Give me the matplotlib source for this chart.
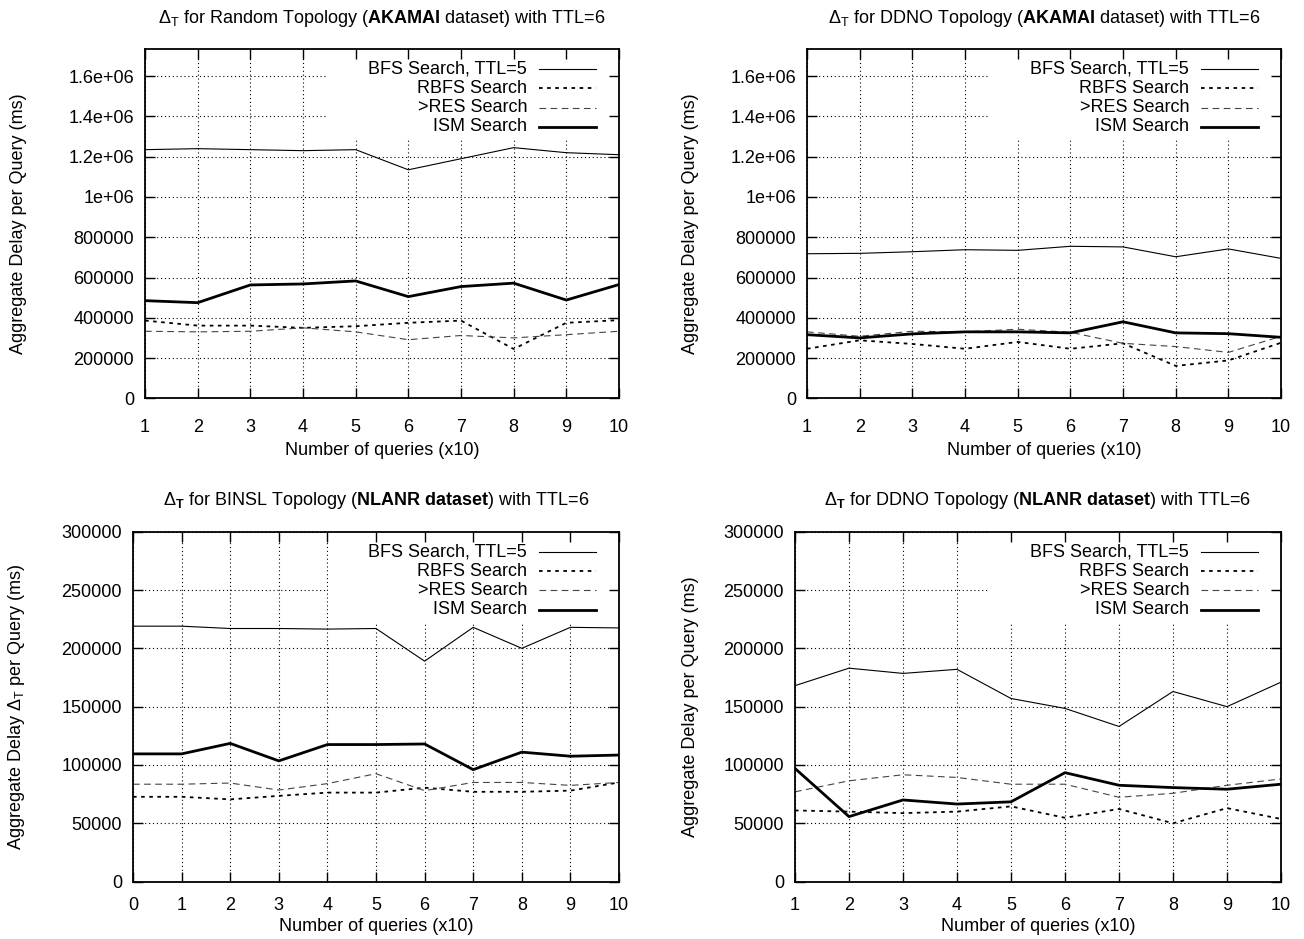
import numpy as np
import matplotlib
matplotlib.use('Agg')
import matplotlib.pyplot as plt
from matplotlib.patches import Rectangle

plt.rcParams['font.family'] = ['Liberation Sans', 'DejaVu Sans']
plt.rcParams['mathtext.fontset'] = 'custom'
plt.rcParams['mathtext.rm'] = 'Liberation Sans'
plt.rcParams['mathtext.it'] = 'Liberation Sans:italic'
plt.rcParams['mathtext.bf'] = 'Liberation Sans:bold'
plt.rcParams['font.size'] = 13

# ---- data ----
queries_1 = [1, 2, 3, 4, 5, 6, 7, 8, 9, 10]
queries_0 = [0, 1, 2, 3, 4, 5, 6, 7, 8, 9, 10]

# Random topology, AKAMAI
rnd_ak_bfs = [1235000, 1240000, 1235000, 1230000, 1235000, 1135000, 1190000, 1245000, 1220000, 1210000]
rnd_ak_rbfs = [386000, 361000, 361000, 350000, 358000, 375000, 386000, 245000, 375000, 388000]
rnd_ak_res = [333000, 330000, 333000, 350000, 330000, 291000, 312000, 300000, 316000, 333000]
rnd_ak_ism = [485000, 475000, 563000, 568000, 583000, 505000, 555000, 572000, 488000, 565000]

# DDNO topology, AKAMAI
ddno_ak_bfs = [718000, 720000, 728000, 738000, 735000, 755000, 752000, 703000, 742000, 695000]
ddno_ak_rbfs = [246000, 288000, 270000, 246000, 280000, 246000, 273000, 161000, 188000, 276000]
ddno_ak_res = [330000, 308000, 333000, 330000, 343000, 328000, 273000, 257000, 228000, 308000]
ddno_ak_ism = [316000, 300000, 320000, 330000, 330000, 325000, 380000, 325000, 321000, 303000]

# BINSL topology, NLANR
binsl_nl_bfs = [219000, 219000, 217000, 217000, 216500, 217000, 189000, 218000, 200000, 218000, 217500]
binsl_nl_rbfs = [72700, 72700, 70500, 73500, 76300, 76300, 80500, 77000, 77000, 78000, 85000]
binsl_nl_res = [83500, 83500, 84500, 78500, 84000, 92500, 78000, 85000, 85000, 82500, 85000]
binsl_nl_ism = [109500, 109500, 118500, 103500, 117500, 117500, 118000, 96000, 111000, 107500, 108500]

# DDNO topology, NLANR
ddno_nl_bfs = [168000, 183000, 178500, 182000, 157000, 148500, 133000, 163000, 150000, 171000]
ddno_nl_rbfs = [61000, 60000, 58700, 60000, 64500, 54700, 62300, 50000, 63000, 53700]
ddno_nl_res = [77000, 86400, 91600, 89300, 83500, 83500, 72300, 75700, 82600, 88000]
ddno_nl_ism = [97000, 55700, 70000, 66500, 68400, 93400, 82600, 80600, 79200, 83500]

series_names = ['BFS Search, TTL=5', 'RBFS Search', '>RES Search', 'ISM Search']

ak_yticks = [0, 200000, 400000, 600000, 800000, 1000000, 1200000, 1400000, 1600000]
ak_ylabels = ['0', '200000', '400000', '600000', '800000', '1e+06', '1.2e+06', '1.4e+06', '1.6e+06']
nl_yticks = [0, 50000, 100000, 150000, 200000, 250000, 300000]
nl_ylabels = ['0', '50000', '100000', '150000', '200000', '250000', '300000']

titles = [
    r'$\Delta_{\mathrm{T}}$ for Random Topology ($\mathbf{AKAMAI}$ dataset) with TTL=6',
    r'$\Delta_{\mathrm{T}}$ for DDNO Topology ($\mathbf{AKAMAI}$ dataset) with TTL=6',
    r'$\Delta_{\mathbf{T}}$ for BINSL Topology ($\mathbf{NLANR\ dataset}$) with TTL=6',
    r'$\Delta_{\mathbf{T}}$ for DDNO Topology ($\mathbf{NLANR\ dataset}$) with TTL=6',
]
ylabels = [
    'Aggregate Delay per Query (ms)',
    'Aggregate Delay per Query (ms)',
    r'Aggregate Delay $\Delta_{\mathrm{T}}$ per Query (ms)',
    'Aggregate Delay per Query (ms)',
]

styles = [
    dict(color='black', lw=0.8, ls='-'),
    dict(color='black', lw=1.3, ls=(0, (2, 2.5))),
    dict(color='#444444', lw=0.8, ls=(0, (6, 4))),
    dict(color='black', lw=2.0, ls='-'),
]

W, H = 1304, 939
fig = plt.figure(figsize=(W / 100, H / 100), dpi=100)

# panel boxes in pixels: left, right, top, bottom
boxes = [
    (145, 619, 49, 398.3),
    (807, 1281, 49, 398.3),
    (133, 619, 531.7, 881.6),
    (795, 1281, 531.7, 881.6),
]
ylabel_px = [27, 699, 27, 699]
xtick_pad = [15, 15, 11, 11]
xlabel_pad = [4, 4, 3, 3]

panels = [
    (queries_1, [rnd_ak_bfs, rnd_ak_rbfs, rnd_ak_res, rnd_ak_ism], (1, 10), 1735000, ak_yticks, ak_ylabels),
    (queries_1, [ddno_ak_bfs, ddno_ak_rbfs, ddno_ak_res, ddno_ak_ism], (1, 10), 1735000, ak_yticks, ak_ylabels),
    (queries_0, [binsl_nl_bfs, binsl_nl_rbfs, binsl_nl_res, binsl_nl_ism], (0, 10), 300000, nl_yticks, nl_ylabels),
    (queries_1, [ddno_nl_bfs, ddno_nl_rbfs, ddno_nl_res, ddno_nl_ism], (1, 10), 300000, nl_yticks, nl_ylabels),
]

for i, (xs, ys, xlim, ymax, yt, ytl) in enumerate(panels):
    l, r, t, b = boxes[i]
    pw, ph = r - l, b - t
    rect = [l / W, 1 - b / H, pw / W, ph / H]
    ax = fig.add_axes(rect)
    for name, y, st in zip(series_names, ys, styles):
        ax.plot(xs, y, label=name, zorder=2, **st)
    ax.set_xlim(*xlim)
    ax.set_ylim(0, ymax)
    ax.set_xticks(xs)
    ax.set_yticks(yt)
    ax.set_yticklabels(ytl)
    ax.set_axisbelow(True)
    ax.grid(True, color='black', ls=(0, (1, 2.5)), lw=0.8)
    ax.tick_params(axis='y', length=0, pad=8)
    ax.tick_params(axis='x', length=0, pad=xtick_pad[i])
    ax.set_title(titles[i], fontsize=13, pad=19)
    ax.set_xlabel('Number of queries (x10)', labelpad=xlabel_pad[i])
    ax.set_ylabel(ylabels[i])
    ax.yaxis.set_label_coords((ylabel_px[i] - l) / pw, 0.5)
    for s in ax.spines.values():
        s.set_visible(False)

    # key in the gnuplot manner: opaque box, right-aligned text, sample on the right
    ax.add_patch(Rectangle((1 - 291 / pw, 1 - 91 / ph), 291 / pw, 91 / ph,
                           transform=ax.transAxes, facecolor='white',
                           edgecolor='none', zorder=3))
    for k, (name, st) in enumerate(zip(series_names, styles)):
        yk = 1 - (20 + 19.3 * k) / ph
        ax.text(1 - 92 / pw, yk, name, transform=ax.transAxes, ha='right',
                va='center', fontsize=13, zorder=4)
        ax.plot([1 - 80 / pw, 1 - 23 / pw], [yk, yk], transform=ax.transAxes,
                zorder=4, **st)

    # overlay for border and inward ticks drawn above the key
    ov = fig.add_axes(rect, sharex=ax, sharey=ax)
    ov.patch.set_visible(False)
    ov.set_zorder(ax.get_zorder() + 1)
    ov.tick_params(direction='in', length=7, width=1, top=True, right=True,
                   labelbottom=False, labelleft=False)
    for s in ov.spines.values():
        s.set_linewidth(1.3)

fig.savefig('out.png', dpi=100, facecolor='white')
